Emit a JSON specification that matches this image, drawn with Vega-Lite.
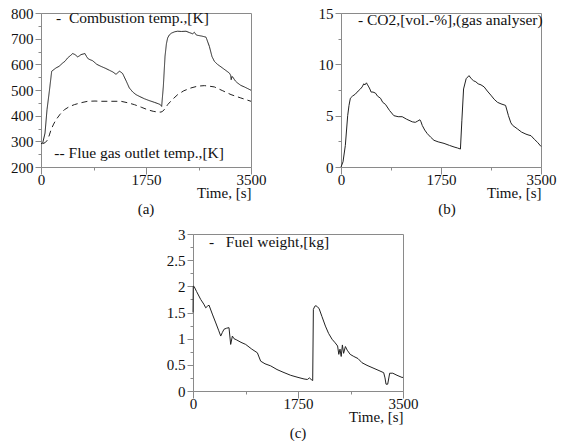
{
  "$schema": "https://vega.github.io/schema/vega-lite/v6.json",
  "padding": {"left": 10, "top": 5, "right": 0, "bottom": 0},
  "background": "white",
  "datasets": {
    "temp": [
      {"t": 0, "v": 291, "series": "Combustion"}, {"t": 28, "v": 293, "series": "Combustion"}, {"t": 67, "v": 332, "series": "Combustion"}, {"t": 100, "v": 423, "series": "Combustion"}, {"t": 139, "v": 495, "series": "Combustion"}, {"t": 178, "v": 573, "series": "Combustion"}, {"t": 250, "v": 586, "series": "Combustion"}, {"t": 300, "v": 592, "series": "Combustion"}, {"t": 361, "v": 605, "series": "Combustion"}, {"t": 400, "v": 612, "series": "Combustion"}, {"t": 444, "v": 625, "series": "Combustion"}, {"t": 500, "v": 636, "series": "Combustion"}, {"t": 528, "v": 642, "series": "Combustion"}, {"t": 567, "v": 638, "series": "Combustion"}, {"t": 611, "v": 629, "series": "Combustion"}, {"t": 640, "v": 633, "series": "Combustion"}, {"t": 667, "v": 638, "series": "Combustion"}, {"t": 700, "v": 640, "series": "Combustion"}, {"t": 733, "v": 642, "series": "Combustion"}, {"t": 760, "v": 630, "series": "Combustion"}, {"t": 789, "v": 621, "series": "Combustion"}, {"t": 861, "v": 614, "series": "Combustion"}, {"t": 930, "v": 600, "series": "Combustion"}, {"t": 1000, "v": 592, "series": "Combustion"}, {"t": 1070, "v": 585, "series": "Combustion"}, {"t": 1139, "v": 577, "series": "Combustion"}, {"t": 1200, "v": 570, "series": "Combustion"}, {"t": 1250, "v": 561, "series": "Combustion"}, {"t": 1306, "v": 573, "series": "Combustion"}, {"t": 1330, "v": 570, "series": "Combustion"}, {"t": 1361, "v": 564, "series": "Combustion"}, {"t": 1420, "v": 535, "series": "Combustion"}, {"t": 1472, "v": 508, "series": "Combustion"}, {"t": 1530, "v": 492, "series": "Combustion"}, {"t": 1583, "v": 482, "series": "Combustion"}, {"t": 1650, "v": 474, "series": "Combustion"}, {"t": 1722, "v": 466, "series": "Combustion"}, {"t": 1800, "v": 459, "series": "Combustion"}, {"t": 1889, "v": 452, "series": "Combustion"}, {"t": 1960, "v": 446, "series": "Combustion"}, {"t": 1989, "v": 443, "series": "Combustion"}, {"t": 2011, "v": 436, "series": "Combustion"}, {"t": 2039, "v": 514, "series": "Combustion"}, {"t": 2067, "v": 631, "series": "Combustion"}, {"t": 2090, "v": 680, "series": "Combustion"}, {"t": 2111, "v": 703, "series": "Combustion"}, {"t": 2140, "v": 715, "series": "Combustion"}, {"t": 2178, "v": 722, "series": "Combustion"}, {"t": 2230, "v": 727, "series": "Combustion"}, {"t": 2278, "v": 729, "series": "Combustion"}, {"t": 2340, "v": 728, "series": "Combustion"}, {"t": 2417, "v": 729, "series": "Combustion"}, {"t": 2470, "v": 724, "series": "Combustion"}, {"t": 2528, "v": 719, "series": "Combustion"}, {"t": 2556, "v": 725, "series": "Combustion"}, {"t": 2590, "v": 714, "series": "Combustion"}, {"t": 2611, "v": 713, "series": "Combustion"}, {"t": 2680, "v": 710, "series": "Combustion"}, {"t": 2750, "v": 706, "series": "Combustion"}, {"t": 2806, "v": 670, "series": "Combustion"}, {"t": 2850, "v": 630, "series": "Combustion"}, {"t": 2889, "v": 612, "series": "Combustion"}, {"t": 2940, "v": 600, "series": "Combustion"}, {"t": 3000, "v": 590, "series": "Combustion"}, {"t": 3070, "v": 578, "series": "Combustion"}, {"t": 3139, "v": 566, "series": "Combustion"}, {"t": 3160, "v": 558, "series": "Combustion"}, {"t": 3170, "v": 540, "series": "Combustion"}, {"t": 3182, "v": 553, "series": "Combustion"}, {"t": 3194, "v": 551, "series": "Combustion"}, {"t": 3240, "v": 535, "series": "Combustion"}, {"t": 3278, "v": 527, "series": "Combustion"}, {"t": 3330, "v": 518, "series": "Combustion"}, {"t": 3389, "v": 512, "series": "Combustion"}, {"t": 3450, "v": 505, "series": "Combustion"}, {"t": 3500, "v": 499, "series": "Combustion"},
      {"t": 28, "v": 291, "series": "Flue"}, {"t": 70, "v": 295, "series": "Flue"}, {"t": 111, "v": 306, "series": "Flue"}, {"t": 140, "v": 325, "series": "Flue"}, {"t": 167, "v": 345, "series": "Flue"}, {"t": 210, "v": 367, "series": "Flue"}, {"t": 250, "v": 384, "series": "Flue"}, {"t": 320, "v": 406, "series": "Flue"}, {"t": 389, "v": 423, "series": "Flue"}, {"t": 470, "v": 435, "series": "Flue"}, {"t": 556, "v": 443, "series": "Flue"}, {"t": 660, "v": 450, "series": "Flue"}, {"t": 778, "v": 456, "series": "Flue"}, {"t": 900, "v": 457, "series": "Flue"}, {"t": 1000, "v": 456, "series": "Flue"}, {"t": 1150, "v": 456, "series": "Flue"}, {"t": 1333, "v": 456, "series": "Flue"}, {"t": 1450, "v": 450, "series": "Flue"}, {"t": 1556, "v": 443, "series": "Flue"}, {"t": 1670, "v": 433, "series": "Flue"}, {"t": 1778, "v": 423, "series": "Flue"}, {"t": 1870, "v": 417, "series": "Flue"}, {"t": 1944, "v": 414, "series": "Flue"}, {"t": 2000, "v": 414, "series": "Flue"}, {"t": 2028, "v": 417, "series": "Flue"}, {"t": 2070, "v": 428, "series": "Flue"}, {"t": 2111, "v": 443, "series": "Flue"}, {"t": 2190, "v": 463, "series": "Flue"}, {"t": 2278, "v": 482, "series": "Flue"}, {"t": 2380, "v": 497, "series": "Flue"}, {"t": 2500, "v": 508, "series": "Flue"}, {"t": 2610, "v": 515, "series": "Flue"}, {"t": 2722, "v": 517, "series": "Flue"}, {"t": 2800, "v": 515, "series": "Flue"}, {"t": 2889, "v": 512, "series": "Flue"}, {"t": 3030, "v": 497, "series": "Flue"}, {"t": 3167, "v": 482, "series": "Flue"}, {"t": 3330, "v": 469, "series": "Flue"}, {"t": 3500, "v": 456, "series": "Flue"}
    ],
    "co2": [
      {"t": 0, "v": 0}, {"t": 35, "v": 0.5}, {"t": 76, "v": 2.1}, {"t": 117, "v": 5.0}, {"t": 140, "v": 6.0}, {"t": 164, "v": 6.7}, {"t": 200, "v": 6.9}, {"t": 252, "v": 7.1}, {"t": 300, "v": 7.4}, {"t": 340, "v": 7.6}, {"t": 370, "v": 7.8}, {"t": 398, "v": 8.1}, {"t": 420, "v": 8.0}, {"t": 445, "v": 8.2}, {"t": 465, "v": 8.0}, {"t": 486, "v": 7.8}, {"t": 505, "v": 7.6}, {"t": 527, "v": 7.3}, {"t": 560, "v": 7.3}, {"t": 603, "v": 7.2}, {"t": 640, "v": 6.9}, {"t": 691, "v": 6.7}, {"t": 730, "v": 6.3}, {"t": 778, "v": 6.1}, {"t": 850, "v": 5.5}, {"t": 925, "v": 5.0}, {"t": 1000, "v": 4.9}, {"t": 1071, "v": 4.9}, {"t": 1150, "v": 4.65}, {"t": 1247, "v": 4.4}, {"t": 1300, "v": 4.35}, {"t": 1334, "v": 4.45}, {"t": 1381, "v": 4.6}, {"t": 1400, "v": 4.4}, {"t": 1422, "v": 4.05}, {"t": 1465, "v": 3.6}, {"t": 1510, "v": 3.25}, {"t": 1570, "v": 2.9}, {"t": 1627, "v": 2.6}, {"t": 1700, "v": 2.45}, {"t": 1803, "v": 2.3}, {"t": 1900, "v": 2.1}, {"t": 1978, "v": 1.95}, {"t": 2040, "v": 1.85}, {"t": 2090, "v": 1.75}, {"t": 2115, "v": 4.5}, {"t": 2145, "v": 7.6}, {"t": 2190, "v": 8.6}, {"t": 2240, "v": 8.9}, {"t": 2280, "v": 8.6}, {"t": 2320, "v": 8.4}, {"t": 2360, "v": 8.3}, {"t": 2400, "v": 8.1}, {"t": 2450, "v": 8.0}, {"t": 2505, "v": 7.8}, {"t": 2560, "v": 7.4}, {"t": 2622, "v": 7.0}, {"t": 2680, "v": 6.6}, {"t": 2739, "v": 6.3}, {"t": 2800, "v": 6.15}, {"t": 2880, "v": 6.0}, {"t": 2930, "v": 5.0}, {"t": 2973, "v": 4.3}, {"t": 3004, "v": 4.05}, {"t": 3090, "v": 3.7}, {"t": 3160, "v": 3.4}, {"t": 3237, "v": 3.2}, {"t": 3290, "v": 3.1}, {"t": 3325, "v": 3.05}, {"t": 3383, "v": 2.7}, {"t": 3440, "v": 2.4}, {"t": 3500, "v": 2.0}
    ],
    "fuel": [
      {"t": 0, "v": 1.5}, {"t": 4, "v": 2.0}, {"t": 17, "v": 2.0}, {"t": 60, "v": 1.9}, {"t": 128, "v": 1.75}, {"t": 180, "v": 1.66}, {"t": 212, "v": 1.59}, {"t": 240, "v": 1.62}, {"t": 267, "v": 1.64}, {"t": 322, "v": 1.47}, {"t": 380, "v": 1.3}, {"t": 430, "v": 1.15}, {"t": 462, "v": 1.05}, {"t": 490, "v": 1.12}, {"t": 517, "v": 1.18}, {"t": 560, "v": 1.2}, {"t": 600, "v": 1.21}, {"t": 628, "v": 0.89}, {"t": 656, "v": 1.05}, {"t": 683, "v": 1.0}, {"t": 720, "v": 0.98}, {"t": 800, "v": 0.93}, {"t": 878, "v": 0.89}, {"t": 980, "v": 0.8}, {"t": 1073, "v": 0.73}, {"t": 1100, "v": 0.65}, {"t": 1128, "v": 0.57}, {"t": 1200, "v": 0.52}, {"t": 1295, "v": 0.48}, {"t": 1400, "v": 0.41}, {"t": 1500, "v": 0.36}, {"t": 1628, "v": 0.3}, {"t": 1750, "v": 0.26}, {"t": 1850, "v": 0.23}, {"t": 1906, "v": 0.22}, {"t": 1940, "v": 0.25}, {"t": 1970, "v": 0.22}, {"t": 1995, "v": 0.2},
      {"t": 2006, "v": 1.56}, {"t": 2030, "v": 1.62}, {"t": 2050, "v": 1.63}, {"t": 2080, "v": 1.6}, {"t": 2100, "v": 1.58}, {"t": 2150, "v": 1.42}, {"t": 2207, "v": 1.24}, {"t": 2260, "v": 1.1}, {"t": 2317, "v": 0.99}, {"t": 2370, "v": 0.92}, {"t": 2410, "v": 0.86}, {"t": 2430, "v": 0.7}, {"t": 2450, "v": 0.8}, {"t": 2470, "v": 0.66}, {"t": 2490, "v": 0.88}, {"t": 2510, "v": 0.72}, {"t": 2540, "v": 0.85}, {"t": 2570, "v": 0.78}, {"t": 2620, "v": 0.7}, {"t": 2680, "v": 0.66}, {"t": 2750, "v": 0.62}, {"t": 2817, "v": 0.54}, {"t": 2900, "v": 0.49}, {"t": 3000, "v": 0.44}, {"t": 3100, "v": 0.39}, {"t": 3178, "v": 0.35}, {"t": 3200, "v": 0.25}, {"t": 3217, "v": 0.13}, {"t": 3245, "v": 0.13}, {"t": 3278, "v": 0.34}, {"t": 3330, "v": 0.34}, {"t": 3400, "v": 0.3}, {"t": 3483, "v": 0.26}, {"t": 3500, "v": 0.26}
    ],
    "labelsA": [
      {"t": 250, "v": 779, "label": "-\u00a0\u00a0Combustion temp.,[K]"},
      {"t": 222, "v": 253, "label": "--\u00a0Flue gas outlet temp.,[K]"}
    ],
    "labelsB": [
      {"t": 297, "v": 14.28, "label": "- CO2,[vol.-%],(gas analyser)"}
    ],
    "labelsC": [
      {"t": 267, "v": 2.84, "label": "-\u00a0\u00a0\u00a0Fuel weight,[kg]"}
    ]
  },
  "spacing": 8,
  "vconcat": [
    {
      "bounds": "flush",
      "spacing": 90,
      "hconcat": [
        {
          "width": 210, "height": 154,
          "title": {"text": "(a)"},
          "layer": [
            {
              "data": {"name": "temp"},
              "mark": {"type": "line", "color": "#222", "strokeWidth": 1},
              "encoding": {
                "x": {"field": "t", "type": "quantitative", "title": "Time, [s]",
                  "scale": {"domain": [0, 3500], "nice": false},
                  "axis": {"values": [0, 875, 1750, 2625, 3500], "tickCount": 50, "format": "d", "labelOverlap": false,
                    "labelExpr": "datum.value % 1750 === 0 ? datum.label : ''",
                    "tickSize": {"condition": {"test": "datum.value % 1750 === 0", "value": 7}, "value": 3}}},
                "y": {"field": "v", "type": "quantitative", "title": null,
                  "scale": {"domain": [200, 800], "nice": false, "zero": false},
                  "axis": {"values": [200, 250, 300, 350, 400, 450, 500, 550, 600, 650, 700, 750, 800], "tickCount": 50, "format": "d", "labelOverlap": false,
                    "labelExpr": "datum.value % 100 === 0 ? datum.label : ''",
                    "tickSize": {"condition": {"test": "datum.value % 100 === 0", "value": 6}, "value": 3}}},
                "strokeDash": {"field": "series", "type": "nominal",
                  "scale": {"domain": ["Combustion", "Flue"], "range": [[1, 0], [6, 4]]}, "legend": null}
              }
            },
            {
              "data": {"name": "labelsA"},
              "mark": {"type": "text", "align": "left", "baseline": "middle", "fontSize": 15.5, "font": "Liberation Serif", "color": "#111"},
              "encoding": {
                "x": {"field": "t", "type": "quantitative", "title": "Time, [s]"},
                "y": {"field": "v", "type": "quantitative", "title": null},
                "text": {"field": "label"}
              }
            }
          ]
        },
        {
          "width": 200, "height": 154,
          "title": {"text": "(b)", "dx": 6},
          "layer": [
            {
              "data": {"name": "co2"},
              "mark": {"type": "line", "color": "#222", "strokeWidth": 1},
              "encoding": {
                "x": {"field": "t", "type": "quantitative", "title": "Time, [s]",
                  "scale": {"domain": [0, 3500], "nice": false},
                  "axis": {"values": [0, 875, 1750, 2625, 3500], "tickCount": 50, "format": "d", "labelOverlap": false,
                    "labelExpr": "datum.value % 1750 === 0 ? datum.label : ''",
                    "tickSize": {"condition": {"test": "datum.value % 1750 === 0", "value": 7}, "value": 3}}},
                "y": {"field": "v", "type": "quantitative", "title": null,
                  "scale": {"domain": [0, 15], "nice": false},
                  "axis": {"values": [0, 2.5, 5, 7.5, 10, 12.5, 15], "tickCount": 50, "format": "~g", "labelOverlap": false,
                    "labelExpr": "datum.value % 5 === 0 ? datum.label : ''",
                    "tickSize": {"condition": {"test": "datum.value % 5 === 0", "value": 6}, "value": 3}}}
              }
            },
            {
              "data": {"name": "labelsB"},
              "mark": {"type": "text", "align": "left", "baseline": "middle", "fontSize": 15.5, "font": "Liberation Serif", "color": "#111"},
              "encoding": {
                "x": {"field": "t", "type": "quantitative", "title": "Time, [s]"},
                "y": {"field": "v", "type": "quantitative", "title": null},
                "text": {"field": "label"}
              }
            }
          ]
        }
      ]
    },
    {
      "bounds": "flush",
      "spacing": 10,
      "hconcat": [
        {
          "width": 142, "height": 157,
          "view": {"stroke": null},
          "data": {"values": []},
          "mark": "point",
          "encoding": {}
        },
        {
          "width": 210, "height": 157,
          "title": {"text": "(c)"},
          "layer": [
            {
              "data": {"name": "fuel"},
              "mark": {"type": "line", "color": "#222", "strokeWidth": 1},
              "encoding": {
                "x": {"field": "t", "type": "quantitative", "title": "Time, [s]",
                  "scale": {"domain": [0, 3500], "nice": false},
                  "axis": {"values": [0, 875, 1750, 2625, 3500], "tickCount": 50, "format": "d", "labelOverlap": false,
                    "labelExpr": "datum.value % 1750 === 0 ? datum.label : ''",
                    "tickSize": {"condition": {"test": "datum.value % 1750 === 0", "value": 7}, "value": 3}}},
                "y": {"field": "v", "type": "quantitative", "title": null,
                  "scale": {"domain": [0, 3], "nice": false},
                  "axis": {"values": [0, 0.25, 0.5, 0.75, 1, 1.25, 1.5, 1.75, 2, 2.25, 2.5, 2.75, 3], "tickCount": 50, "format": "~g", "labelOverlap": false,
                    "labelExpr": "datum.value % 0.5 === 0 ? datum.label : ''",
                    "tickSize": {"condition": {"test": "datum.value % 0.5 === 0", "value": 6}, "value": 3}}}
              }
            },
            {
              "data": {"name": "labelsC"},
              "mark": {"type": "text", "align": "left", "baseline": "middle", "fontSize": 15.5, "font": "Liberation Serif", "color": "#111"},
              "encoding": {
                "x": {"field": "t", "type": "quantitative", "title": "Time, [s]"},
                "y": {"field": "v", "type": "quantitative", "title": null},
                "text": {"field": "label"}
              }
            }
          ]
        }
      ]
    }
  ],
  "config": {
    "font": "Liberation Serif",
    "view": {"stroke": "#8a8a8a", "strokeWidth": 1},
    "axis": {"labelFont": "Liberation Serif", "labelFontSize": 15, "labelColor": "#111",
      "titleFont": "Liberation Serif", "titleFontSize": 15, "titleFontWeight": "normal", "titleColor": "#111",
      "grid": false, "domainColor": "#8a8a8a", "tickColor": "#8a8a8a", "labelOverlap": false, "labelFlush": false},
    "axisX": {"titleAnchor": "end", "labelPadding": -2, "titlePadding": -2},
    "axisY": {"labelPadding": 2},
    "title": {"font": "Liberation Serif", "fontSize": 15, "fontWeight": "normal", "color": "#111", "orient": "bottom", "offset": 2}
  }
}
